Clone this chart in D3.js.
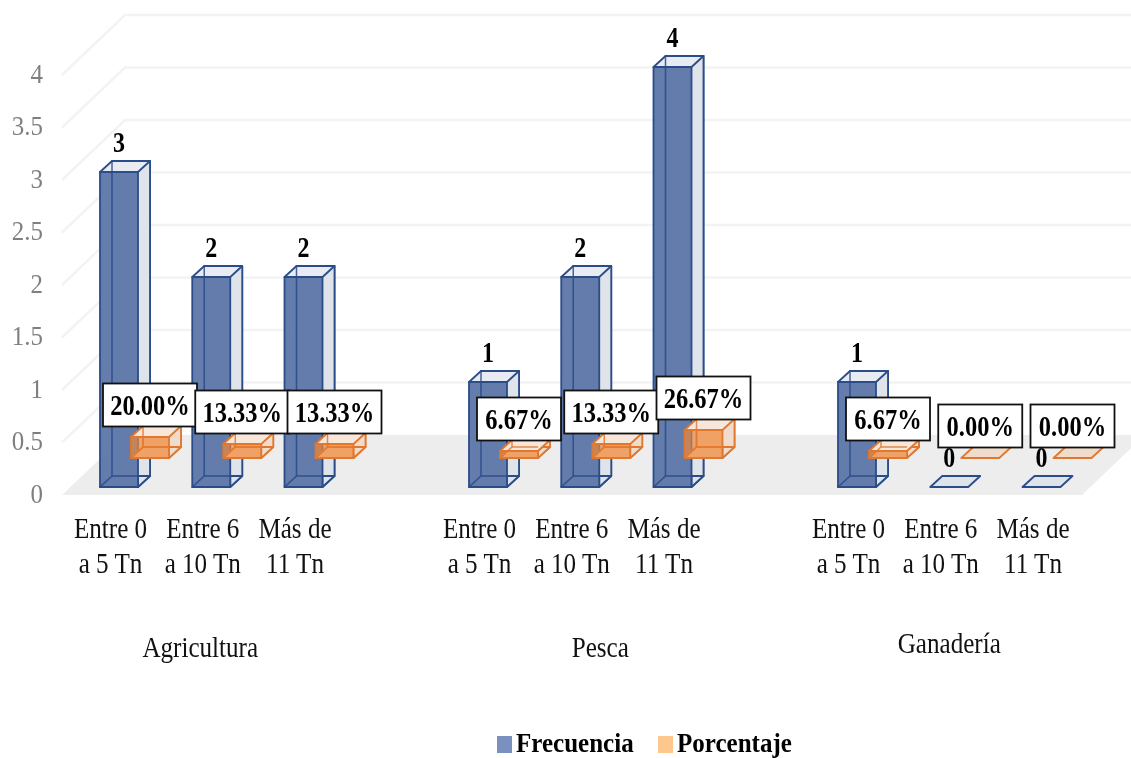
<!DOCTYPE html>
<html>
<head>
<meta charset="utf-8">
<script src="https://cdn.jsdelivr.net/npm/d3@7"></script>
<style>
    html, body { margin: 0; padding: 0; background: #fff; overflow: hidden; }
    svg { display: block; filter: blur(0.6px); }
    text { font-family: "Liberation Serif", serif; }
</style>
</head>
<body>
<script>
// Chart data
const sectors = ["Agricultura", "Pesca", "Ganadería"];
const tonnageLines = [["Entre 0", "a 5 Tn"], ["Entre 6", "a 10 Tn"], ["Más de", "11 Tn"]];
const frecuencia = [3, 2, 2, 1, 2, 4, 1, 0, 0];
const porcentaje = [20.00, 13.33, 13.33, 6.67, 13.33, 26.67, 6.67, 0.00, 0.00];
const yTicks = [0, 0.5, 1, 1.5, 2, 2.5, 3, 3.5, 4];
const legendNames = ["Frecuencia", "Porcentaje"];

const W = 1131, H = 758;
const svg = d3.select("body").append("svg").attr("width", W).attr("height", H);

// Slots: three bars per sector with one empty slot between sectors
const slots = frecuencia.map((d, i) => Math.floor(i / 3) * 4 + i % 3);
const x = d3.scaleLinear().domain([0, 10]).range([100, 1022.5]);
const y = d3.scaleLinear().domain([0, 4]).range([495, 75]);

const barW = 38;
// oblique projection of the 3D chart
const wall = { dx: 63, dy: -60 };
const depth = { dx: 12, dy: -11 };
const bluePos = { dx: 0, dy: -8 };
const orangePos = { dx: 31, dy: -37 };

const blue = { front: "#5c76a9", side: "#dfe3ea", top: "#e8ebf1", line: "#2a4c88", alpha: 0.95 };
const orange = { front: "#f0893a", side: "#f0dccd", top: "#f7e6da", line: "#e0782f", alpha: 0.7 };

function condensed(sel, px, py, sx) {
    return sel.attr("transform", `translate(${px},${py}) scale(${sx},1)`);
}

// Floor
svg.append("polygon")
    .attr("points", [
        [62, y(0)], [62 + wall.dx, y(0) + wall.dy], [1145, y(0) + wall.dy], [1082, y(0)]
    ].join(" "))
    .attr("fill", "#ededed");

// Gridlines running along the side wall and back wall
svg.append("g").selectAll("path")
    .data(yTicks.filter(d => d > 0))
    .join("path")
    .attr("d", d => d3.line()([[62, y(d)], [62 + wall.dx, y(d) + wall.dy], [W, y(d) + wall.dy]]))
    .attr("fill", "none")
    .attr("stroke", "#f3f3f3")
    .attr("stroke-width", 2.5);

// Value axis
const axis = svg.append("g")
    .attr("transform", "translate(43,-2)")
    .call(d3.axisLeft(y).tickValues(yTicks).tickSize(0).tickPadding(0).tickFormat(d => String(d)));
axis.select(".domain").remove();
axis.selectAll("text")
    .attr("fill", "#7f7f7f")
    .style("font-family", '"Liberation Serif", serif')
    .style("font-size", "28px")
    .attr("dy", "0.33em")
    .attr("transform", "scale(0.89,1)");

function drawBox(g, slot, value, pos, c) {
    const x0 = x(slot) + pos.dx, x1 = x0 + barW;
    const yb = y(0) + pos.dy, yt = y(value) + pos.dy;
    const { dx, dy } = depth;
    const face = pts => g.append("polygon").attr("points", pts.join(" "))
        .attr("stroke", c.line).attr("stroke-width", 1.8).attr("stroke-linejoin", "round");

    if (value === 0) {
        face([[x0, yb], [x0 + dx, yb + dy], [x1 + dx, yb + dy], [x1, yb]]).attr("fill", c.side);
        return;
    }
    // hidden faces first, they show through the translucent front
    face([[x0, yb], [x0 + dx, yb + dy], [x1 + dx, yb + dy], [x1, yb]]).attr("fill", c.side);
    face([[x1, yb], [x1 + dx, yb + dy], [x1 + dx, yt + dy], [x1, yt]]).attr("fill", c.side);
    face([[x0 + dx, yb + dy], [x1 + dx, yb + dy], [x1 + dx, yt + dy], [x0 + dx, yt + dy]]).attr("fill", c.side);
    face([[x0, yt], [x0 + dx, yt + dy], [x1 + dx, yt + dy], [x1, yt]]).attr("fill", c.top);
    face([[x0, yb], [x1, yb], [x1, yt], [x0, yt]]).attr("fill", c.front).attr("fill-opacity", c.alpha);
    g.append("line").attr("x1", x0 + dx).attr("x2", x0 + dx).attr("y1", yb + dy).attr("y2", yt + dy)
        .attr("stroke", c.line).attr("stroke-width", 1.5).attr("stroke-opacity", 0.85);
    g.append("line").attr("x1", x0 + dx).attr("x2", x1).attr("y1", yb + dy).attr("y2", yb + dy)
        .attr("stroke", c.line).attr("stroke-width", 1.5).attr("stroke-opacity", 0.85);
    g.append("line").attr("x1", x0).attr("x2", x0 + dx).attr("y1", yb).attr("y2", yb + dy)
        .attr("stroke", c.line).attr("stroke-width", 1.5).attr("stroke-opacity", 0.85);
}

// Bars: orange boxes sit behind the blue row but are seen through it
const barLayer = svg.append("g");
frecuencia.forEach((d, i) => drawBox(barLayer, slots[i], d, bluePos, blue));
// percent shares are plotted as fractions on the same value axis
porcentaje.forEach((d, i) => drawBox(barLayer, slots[i], d / 100, orangePos, orange));

// Frequency labels
svg.append("g").selectAll("text")
    .data(frecuencia)
    .join("text")
    .text(d => d)
    .attr("text-anchor", "middle")
    .attr("font-weight", "bold")
    .attr("font-size", 30)
    .attr("fill", "#000")
    .each(function (d, i) {
        condensed(d3.select(this), x(slots[i]) + barW / 2, y(d) + bluePos.dy - 20, 0.8);
    });

// Percent labels
const pctLabels = svg.append("g");
porcentaje.forEach((d, i) => {
    const label = d.toFixed(2) + "%";
    const cx = x(slots[i]) + orangePos.dx + barW / 2;
    const cy = y(d / 100) + orangePos.dy - 32;
    const w = 10 * label.length + 34;
    pctLabels.append("rect")
        .attr("x", cx - w / 2).attr("y", cy - 21.5)
        .attr("width", w).attr("height", 43)
        .attr("fill", "#fff").attr("stroke", "#111").attr("stroke-width", 1.8);
    condensed(pctLabels.append("text"), cx, cy + 10, 0.845)
        .text(label)
        .attr("text-anchor", "middle")
        .attr("font-weight", "bold")
        .attr("font-size", 29)
        .attr("fill", "#000");
});

// Category labels, two lines under each bar
const catLabels = svg.append("g");
frecuencia.forEach((d, i) => {
    tonnageLines[i % 3].forEach((line, k) => {
        condensed(catLabels.append("text"), x(slots[i]) + 10.5, 538 + k * 35, 0.866)
            .text(line)
            .attr("text-anchor", "middle")
            .attr("font-size", 29)
            .attr("fill", "#111");
    });
});

// Sector labels
const sectorNudge = [[-11, 0], [20, 0], [0, -4]];
sectors.forEach((s, i) => {
    condensed(svg.append("text"), x(i * 4 + 1) + barW / 2 + sectorNudge[i][0], 657 + sectorNudge[i][1], 0.866)
        .text(s)
        .attr("text-anchor", "middle")
        .attr("font-size", 29)
        .attr("fill", "#111");
});

// Legend
const legendX = [497, 658];
const legendColors = ["#7a90bf", "#fdc78d"];
legendNames.forEach((name, i) => {
    svg.append("rect")
        .attr("x", legendX[i]).attr("y", 736)
        .attr("width", 15).attr("height", 17)
        .attr("fill", legendColors[i]);
    condensed(svg.append("text"), legendX[i] + 19, 751.5, 0.894)
        .text(name)
        .attr("font-weight", "bold")
        .attr("font-size", 28)
        .attr("fill", "#000");
});
</script>
</body>
</html>
